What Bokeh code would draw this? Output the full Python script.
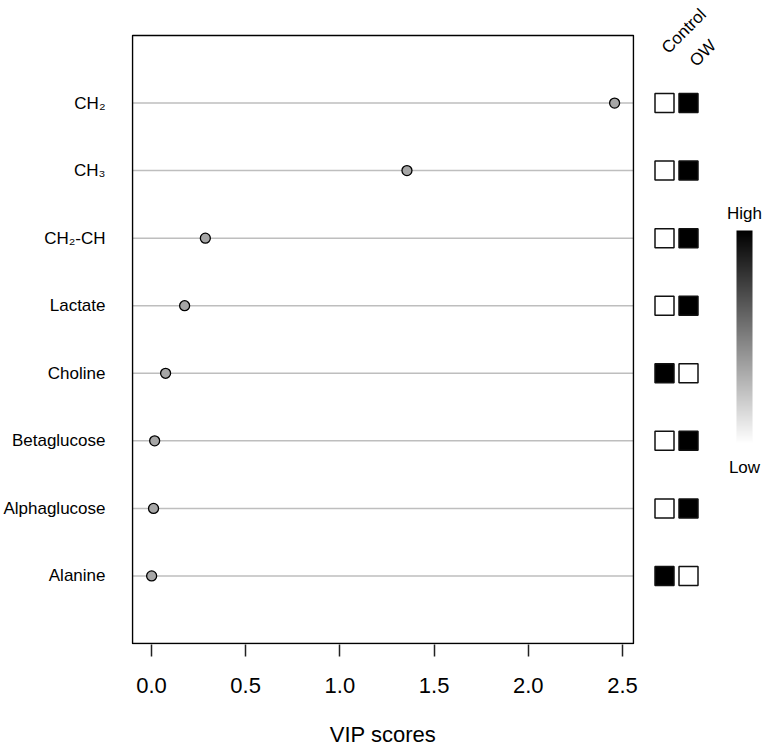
import numpy as np
from bokeh.plotting import figure
from bokeh.layouts import row
from bokeh.models import Range1d, FixedTicker, NumeralTickFormatter, LinearColorMapper
from bokeh.core.properties import value
from bokeh.palettes import Greys256
from bokeh.embed import file_html
from bokeh.resources import INLINE

# ---------------- data ----------------
metabolites = ["CH₂", "CH₃", "CH₂-CH", "Lactate", "Choline",
               "Betaglucose", "Alphaglucose", "Alanine"]
vip_scores = [2.458, 1.356, 0.286, 0.176, 0.075, 0.017, 0.011, 0.001]
control_level = [0, 0, 0, 0, 1, 0, 0, 1]
ow_level = [1, 1, 1, 1, 0, 1, 1, 0]
groups = ["Control", "OW"]
x_ticks = [0.0, 0.5, 1.0, 1.5, 2.0, 2.5]
legend_labels = ["High", "Low"]

# ---------------- layout ----------------
FONT = "Liberation Sans"
W, H = 763, 750
MAIN_W = 643
n = len(metabolites)
ypos = list(range(n, 0, -1))

BOX_X0, BOX_X1 = -0.1006, 2.5583        # plotting box (x data units)
BOX_Y0, BOX_Y1 = 0, n + 1               # plotting box (y data units)
PX_PER_X = 188.8
PX_PER_Y = 608 / (BOX_Y1 - BOX_Y0)
BOX_TOP_PX = 35                          # box top, pixels below page top

# frame: 1px wider than the box on left/right/bottom, reaching the page top
FRAME_L = 130
FRAME_W = 504
FRAME_H = BOX_TOP_PX + 608 + 1
X_LO, X_HI = BOX_X0 - 1 / PX_PER_X, BOX_X1 + 1 / PX_PER_X
Y_LO, Y_HI = BOX_Y0 - 1 / PX_PER_Y, BOX_Y1 + BOX_TOP_PX / PX_PER_Y
FRAME_B = H - FRAME_H

p = figure(width=MAIN_W, height=H,
           x_range=Range1d(X_LO, X_HI), y_range=Range1d(Y_LO, Y_HI),
           output_backend="svg", toolbar_location=None,
           min_border_left=FRAME_L, min_border_right=MAIN_W - FRAME_L - FRAME_W,
           min_border_top=0, min_border_bottom=FRAME_B)
p.background_fill_color = "white"
p.border_fill_color = "white"
p.outline_line_color = None
p.grid.visible = False

# horizontal guide lines across the box
p.segment(x0=[BOX_X0] * n, x1=[BOX_X1] * n, y0=ypos, y1=ypos,
          line_color="#bebebe", line_width=1.5)

# plotting box
p.quad(left=BOX_X0, right=BOX_X1, bottom=BOX_Y0, top=BOX_Y1,
       fill_color=None, line_color="black", line_width=1.5)

# x axis
p.xaxis.ticker = FixedTicker(ticks=x_ticks)
p.xaxis.formatter = NumeralTickFormatter(format="0.0")
p.xaxis.axis_line_color = None
p.xaxis.major_tick_out = 12
p.xaxis.major_tick_in = 0
p.xaxis.major_tick_line_width = 1.5
p.xaxis.major_tick_line_color = "#222222"
p.xaxis.minor_tick_line_color = None
p.xaxis.major_label_text_font = FONT
p.xaxis.major_label_text_font_size = "22px"
p.xaxis.major_label_text_color = "black"
p.xaxis.major_label_standoff = 21
p.xaxis.axis_label = "VIP scores"
p.xaxis.axis_label_text_font = FONT
p.xaxis.axis_label_text_font_size = "22px"
p.xaxis.axis_label_text_font_style = "normal"
p.xaxis.axis_label_text_color = "black"
p.xaxis.axis_label_standoff = 26

# y axis
p.yaxis.ticker = FixedTicker(ticks=ypos)
p.yaxis.major_label_overrides = {y: m for y, m in zip(ypos, metabolites)}
p.yaxis.axis_line_color = None
p.yaxis.major_tick_line_color = None
p.yaxis.major_tick_out = 0
p.yaxis.major_tick_in = 0
p.yaxis.minor_tick_line_color = None
p.yaxis.minor_tick_out = 0
p.yaxis.major_label_text_font = FONT
p.yaxis.major_label_text_font_size = "17px"
p.yaxis.major_label_text_color = "black"
p.yaxis.major_label_standoff = 26

p.scatter(vip_scores, ypos, size=10, fill_color="#a6a6a6",
          line_color="black", line_width=1.3)

# ---------------- right panel (group squares + scale) ----------------
RW = W - MAIN_W
PX_PER_G = 24.0
G_LEFT_PX = 21.0  # first group centre, pixels from the panel's left edge
gx0 = 1 - G_LEFT_PX / PX_PER_G
gx1 = gx0 + RW / PX_PER_G

q = figure(width=RW, height=H, x_range=Range1d(gx0, gx1), y_range=p.y_range,
           output_backend="svg", toolbar_location=None,
           x_axis_location=None, y_axis_location=None,
           min_border_left=0, min_border_right=0,
           min_border_top=0, min_border_bottom=FRAME_B)
q.grid.visible = False
q.outline_line_color = None
q.background_fill_color = "white"
q.border_fill_color = "white"

grey_map = list(reversed(Greys256))  # low -> white, high -> black
mapper = LinearColorMapper(palette=grey_map, low=0, high=1)

sq_x = [1] * n + [2] * n
sq_y = ypos + ypos
sq_level = control_level + ow_level
q.scatter(x=sq_x, y=sq_y, marker="square", size=19,
          fill_color=[grey_map[int(round(v * 255))] for v in sq_level],
          line_color="#111111", line_width=1.5)

def dy(page_y):
    # data y for a pixel row of the picture (annotation placement only)
    return Y_HI - page_y / PX_PER_Y

def dx(page_x):
    # data x in the right panel for a pixel column of the picture
    return 1 + (page_x - MAIN_W - G_LEFT_PX) / PX_PER_G

# column headers (rotated)
q.text(x=[dx(664), dx(692)], y=[dy(50), dy(63)], text=groups,
       angle=45, angle_units="deg", text_align="left", text_baseline="alphabetic",
       text_font=value(FONT), text_font_size="17px", text_color="black")

# continuous scale bar
ramp = np.linspace(0, 1, 256).reshape(256, 1)
q.image(image=[ramp], x=dx(736), y=dy(443), dw=16 / PX_PER_G, dh=(443 - 230) / PX_PER_Y,
        color_mapper=mapper)
q.text(x=[dx(744)] * 2, y=[dy(213), dy(467)], text=legend_labels,
       text_align="center", text_baseline="middle",
       text_font=value(FONT), text_font_size="17px", text_color="black")

layout = row(p, q, spacing=0)
open("out.html", "w").write(file_html(layout, INLINE))
